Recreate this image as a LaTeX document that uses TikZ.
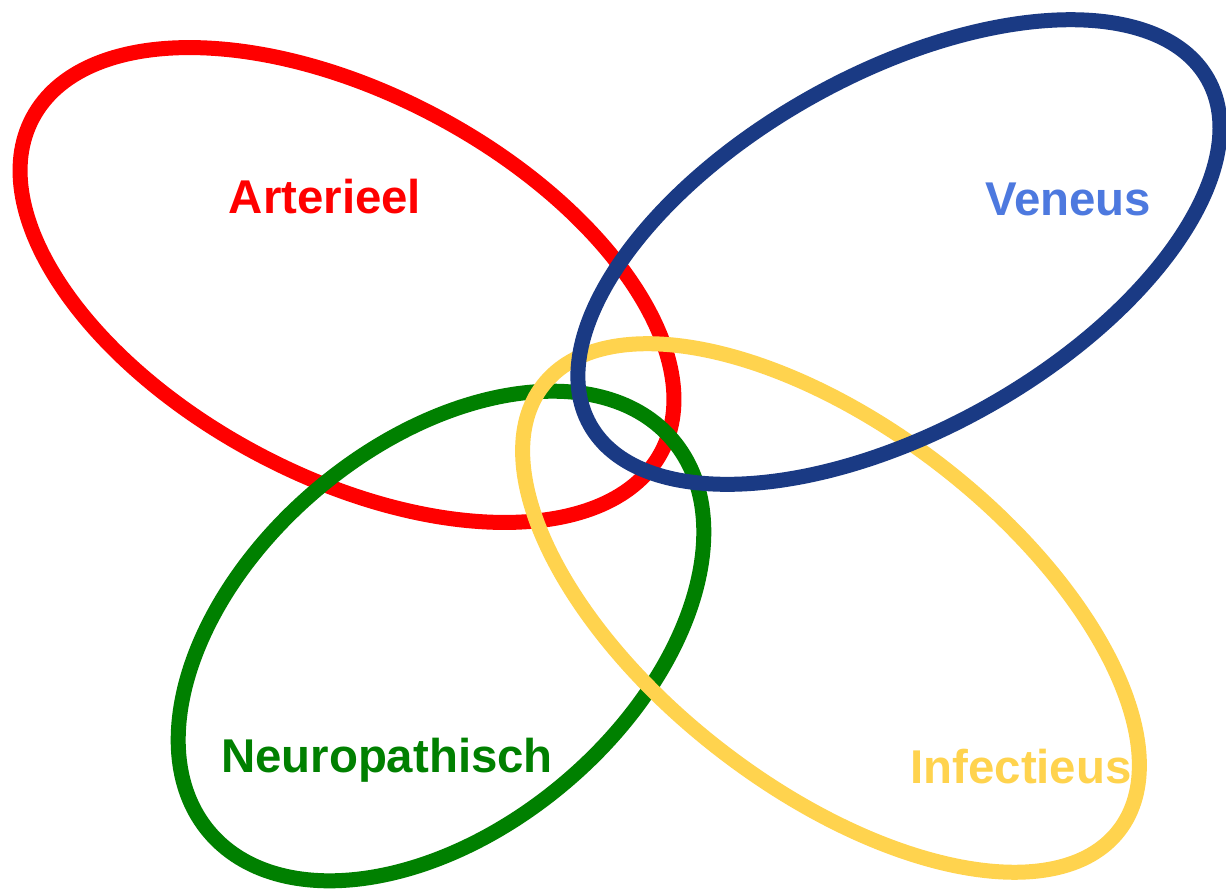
\documentclass[tikz,border=0pt]{standalone}
\usepackage{fontspec}
\setmainfont{Liberation Sans}
\definecolor{artred}{HTML}{FF0000}
\definecolor{venblue}{HTML}{1A3A84}
\definecolor{venlabel}{HTML}{4D79DF}
\definecolor{neugreen}{HTML}{008000}
\definecolor{infyellow}{HTML}{FFD34E}
\tikzset{
  ring/.style={line width=7.5pt},
  label/.style={font=\fontsize{23.7}{28}\selectfont\bfseries, anchor=base, inner sep=0pt}
}
\begin{document}
\begin{tikzpicture}[x=0.5pt,y=-0.5pt]
  \useasboundingbox (0,0) rectangle (1226,890);
  \fill[white] (0,0) rectangle (1226,890);
  % centres of the four rings
  \coordinate (cArt) at (347,285);
  \coordinate (cNeu) at (441,636);
  \coordinate (cInf) at (831,608);
  \coordinate (cVen) at (899,252);
  % rings, bottom to top
  \draw[ring, artred, rotate around={-28:(cArt)}] (cArt) ellipse [x radius=356, y radius=191];
  \draw[ring, neugreen, rotate around={40.25:(cNeu)}] (cNeu) ellipse [x radius=303.5, y radius=192];
  \draw[ring, infyellow, rotate around={-37.7:(cInf)}] (cInf) ellipse [x radius=364, y radius=180];
  \draw[ring, venblue, rotate around={29.2:(cVen)}] (cVen) ellipse [x radius=354, y radius=178];
  % labels
  \node[label, text=artred] (tArt) at (325,213) {Arterieel};
  \node[label, text=venlabel] (tVen) at (1068,215) {Veneus};
  \node[label, text=neugreen] (tNeu) at (387,772) {Neuropathisch};
  \node[label, text=infyellow] (tInf) at (1021,783) {Infectieus};
\end{tikzpicture}
\end{document}
